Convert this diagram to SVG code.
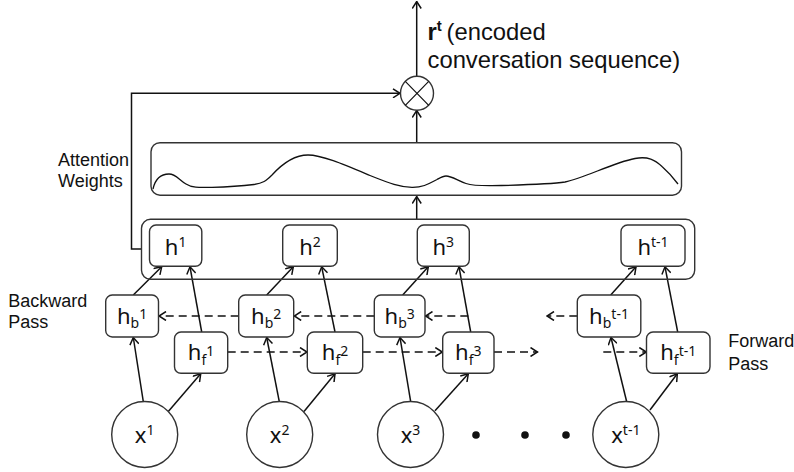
<svg xmlns="http://www.w3.org/2000/svg" width="794" height="472" viewBox="0 0 794 472">
<defs>
<style>
.box{fill:#fff;stroke:#333;stroke-width:1.4}
.frame{fill:none;stroke:#333;stroke-width:1.4}
.ln{fill:none;stroke:#111;stroke-width:1.5}
.arr{fill:none;stroke:#111;stroke-width:1.5;marker-end:url(#ah)}
.dash{fill:none;stroke:#111;stroke-width:1.5;stroke-dasharray:8 5;marker-end:url(#ah)}
.lab{font-family:"Noto Sans","DejaVu Sans",sans-serif;font-size:22px;fill:#111;text-anchor:middle}
.s{font-size:14px}
.txt{font-family:"Liberation Sans",Arial,sans-serif;font-size:18px;fill:#111}
.big{font-family:"Liberation Sans",Arial,sans-serif;font-size:23.8px;fill:#111}
</style>
<marker id="ah" viewBox="0 0 10 10" refX="9" refY="5" markerWidth="10" markerHeight="10" markerUnits="userSpaceOnUse" orient="auto">
<path d="M2,0.5 L9,5 L2,9.5" fill="none" stroke="#111" stroke-width="1.5"/>
</marker>
</defs>

<g id="connectors">
<path class="arr" d="M416.7,76 V1.5"/>
<path class="arr" d="M416.7,142.7 V110.5"/>
<path class="arr" d="M416.7,219.3 V196.5"/>
<path class="arr" d="M141.5,249 H131.5 V93.3 H400"/>
<path class="arr" d="M133.3,295 L161.7,266.8"/>
<path class="arr" d="M201.7,332 L190,266.8"/>
<path class="arr" d="M266.7,295 L293.3,266.8"/>
<path class="arr" d="M335,332 L321.7,266.8"/>
<path class="arr" d="M402.7,295 L428.3,266.8"/>
<path class="arr" d="M470.7,332 L459,266.8"/>
<path class="arr" d="M610.7,295 L636,266.8"/>
<path class="arr" d="M677.7,332 L665,266.8"/>
<path class="arr" d="M143.3,401.7 L133.3,337.5"/>
<path class="arr" d="M168.3,411.5 L200.7,373.8"/>
<path class="arr" d="M279.3,401.7 L266.7,337.5"/>
<path class="arr" d="M304,411.5 L335,373.8"/>
<path class="arr" d="M410.7,401.7 L400,337.5"/>
<path class="arr" d="M435,410.7 L468.3,373.8"/>
<path class="arr" d="M626.7,401.7 L611,337.5"/>
<path class="arr" d="M650,410 L677.3,373.8"/>
<path class="dash" d="M238.7,316 H159"/>
<path class="dash" d="M374.3,316 H294.2"/>
<path class="dash" d="M468.3,316 H425.5"/>
<path class="dash" d="M577.3,316 H547"/>
<path class="dash" d="M227.7,352 H307"/>
<path class="dash" d="M362.7,352 H442.3"/>
<path class="dash" d="M494,352 H537.5"/>
<path class="dash" d="M603.3,352 H646.3"/>
</g>

<g id="combine">
<ellipse cx="417" cy="93.3" rx="16.5" ry="17" class="box"/>
<path class="ln" d="M405.3,81.3 L428.7,105.3 M428.7,81.3 L405.3,105.3" style="stroke-width:1.2"/>
</g>

<g id="output-label">
<text x="427.5" y="40" class="big"><tspan font-weight="bold">r</tspan><tspan font-weight="bold" font-size="15px" dy="-9">t</tspan><tspan dy="9" x="446.5">(encoded</tspan></text>
<text x="427.5" y="68.3" class="big">conversation sequence)</text>
</g>

<g id="attention">
<rect x="151" y="142.7" width="530.5" height="52.5" rx="9" class="frame"/>
<path class="ln" style="stroke-width:1.3" d="M153,189 C155,180 160,174 169,174 C176,174 179,180 186,184 C192,188 200,187.5 212,187.3 C226,187 242,186 254,184.5 C263,183.3 266,181 272,175 C282,164 294,155 308,155 C322,155 345,165 370,175.5 C390,183.5 400,187.3 412,187.3 C424,187.5 430,183 437,179.5 C441,177.3 443,176 446,176 C452,176 458,181 466,183.5 C473,185.8 480,185.8 492,185.7 C522,185 552,184 565,182 C585,178 612,163 635,158.5 C648,156 655,160 662,166.5 C670,173.5 675,180 678,184"/>
<text x="58" y="165.7" class="txt">Attention</text>
<text x="58" y="187.3" class="txt">Weights</text>
</g>

<g id="hidden-layer">
<rect x="141.5" y="219.3" width="553.2" height="60" rx="9" class="frame"/>
</g>

<g id="h1"><rect x="149.5" y="225" width="52.3" height="41.3" rx="6.5" class="box"/><text x="175.6" y="254.5" class="lab">h<tspan class="s" dy="-7.5">1</tspan></text></g>
<g id="h2"><rect x="282.7" y="225" width="54.6" height="41.3" rx="6.5" class="box"/><text x="310" y="254.5" class="lab">h<tspan class="s" dy="-7.5">2</tspan></text></g>
<g id="h3"><rect x="417.3" y="225" width="52" height="41.3" rx="6.5" class="box"/><text x="443.3" y="254.5" class="lab">h<tspan class="s" dy="-7.5">3</tspan></text></g>
<g id="ht"><rect x="621" y="225" width="64" height="41.3" rx="6.5" class="box"/><text x="653" y="254.5" class="lab">h<tspan class="s" dy="-7.5">t-1</tspan></text></g>

<g id="hb1"><rect x="105.7" y="295" width="52.8" height="42" rx="6.5" class="box"/><text x="132.1" y="323.7" class="lab">h<tspan class="s" dy="4.5">b</tspan><tspan class="s" dy="-9">1</tspan></text></g>
<g id="hb2"><rect x="238.7" y="295" width="55" height="42" rx="6.5" class="box"/><text x="266.2" y="323.7" class="lab">h<tspan class="s" dy="4.5">b</tspan><tspan class="s" dy="-9">2</tspan></text></g>
<g id="hb3"><rect x="374.3" y="295" width="50.7" height="42" rx="6.5" class="box"/><text x="399.7" y="323.7" class="lab">h<tspan class="s" dy="4.5">b</tspan><tspan class="s" dy="-9">3</tspan></text></g>
<g id="hbt"><rect x="577.3" y="295" width="63.5" height="42" rx="6.5" class="box"/><text x="609" y="323.7" class="lab">h<tspan class="s" dy="4.5">b</tspan><tspan class="s" dy="-9">t-1</tspan></text></g>

<g id="hf1"><rect x="174.5" y="332" width="53.2" height="41.3" rx="6.5" class="box"/><text x="201.1" y="360.3" class="lab">h<tspan class="s" dy="4.5">f</tspan><tspan class="s" dy="-9">1</tspan></text></g>
<g id="hf2"><rect x="307.3" y="332" width="55.4" height="41.3" rx="6.5" class="box"/><text x="335" y="360.3" class="lab">h<tspan class="s" dy="4.5">f</tspan><tspan class="s" dy="-9">2</tspan></text></g>
<g id="hf3"><rect x="442.7" y="332" width="51.3" height="41.3" rx="6.5" class="box"/><text x="468.3" y="360.3" class="lab">h<tspan class="s" dy="4.5">f</tspan><tspan class="s" dy="-9">3</tspan></text></g>
<g id="hft"><rect x="646.5" y="332" width="63.5" height="41.3" rx="6.5" class="box"/><text x="678.2" y="360.3" class="lab">h<tspan class="s" dy="4.5">f</tspan><tspan class="s" dy="-9">t-1</tspan></text></g>

<g id="x1"><ellipse cx="144.7" cy="434.5" rx="33" ry="33" class="box"/><text x="144.7" y="443.3" class="lab">x<tspan class="s" dy="-8">1</tspan></text></g>
<g id="x2"><ellipse cx="279.7" cy="434.5" rx="33" ry="33" class="box"/><text x="279.7" y="443.3" class="lab">x<tspan class="s" dy="-8">2</tspan></text></g>
<g id="x3"><ellipse cx="410.5" cy="434.5" rx="33" ry="33" class="box"/><text x="410.5" y="443.3" class="lab">x<tspan class="s" dy="-8">3</tspan></text></g>
<g id="xt"><ellipse cx="625.8" cy="434.5" rx="33" ry="33" class="box"/><text x="625.8" y="443.3" class="lab">x<tspan class="s" dy="-8">t-1</tspan></text></g>

<g id="ellipsis">
<circle cx="476" cy="435" r="3.8" fill="#111"/>
<circle cx="525" cy="435" r="3.8" fill="#111"/>
<circle cx="566" cy="435" r="3.8" fill="#111"/>
</g>

<g id="side-labels">
<text x="8.3" y="306.7" class="txt">Backward</text>
<text x="8.3" y="328.3" class="txt">Pass</text>
<text x="728.3" y="347" class="txt">Forward</text>
<text x="728.3" y="369.5" class="txt">Pass</text>
</g>
</svg>
